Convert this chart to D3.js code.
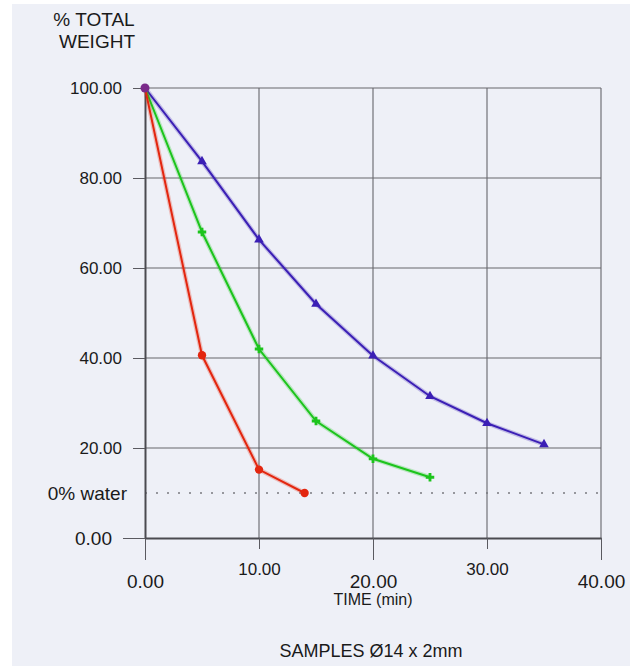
<!DOCTYPE html>
<html>
<head>
<meta charset="utf-8">
<script src="https://cdn.jsdelivr.net/npm/d3@7"></script>
<style>
  body { margin: 0; background: #fff; }
  svg { display: block; font-family: "Liberation Sans", Arial, sans-serif; }
</style>
</head>
<body>
<div class="canvas"></div>
<script>
// data
const times = [0, 5, 10, 15, 20, 25, 30, 35]
const redVals = [100, 40.6, 15.2, 10]
const redTimes = [0, 5, 10, 14]
const greenVals = [100, 68, 42, 26, 17.6, 13.5]
const blueVals = [100, 83.7, 66.3, 52, 40.5, 31.5, 25.5, 20.8]
const xTicks = [0, 10, 20, 30, 40]
const yTicks = [0, 20, 40, 60, 80, 100]
const waterLevel = 10

const dims = { width: 630, height: 666 }
const plot = { left: 145, right: 601, top: 88, bottom: 538 }

const svg = d3.select('.canvas')
  .append('svg')
  .attr('width', dims.width)
  .attr('height', dims.height)

// paper background
svg.append('rect')
  .attr('x', 12).attr('y', 4)
  .attr('width', dims.width - 12).attr('height', dims.height - 4)
  .attr('fill', '#eef0f7')

const x = d3.scaleLinear().domain([0, 40]).range([plot.left, plot.right])
const y = d3.scaleLinear().domain([0, 100]).range([plot.bottom, plot.top])

// grid
const grid = svg.append('g')
grid.selectAll('.hg')
  .data(yTicks.filter(d => d > 0))
  .enter().append('line')
  .attr('x1', plot.left).attr('x2', plot.right)
  .attr('y1', d => y(d)).attr('y2', d => y(d))
  .attr('stroke', '#66666c').attr('stroke-width', 1.1)
grid.selectAll('.vg')
  .data(xTicks.filter(d => d > 0))
  .enter().append('line')
  .attr('x1', d => x(d)).attr('x2', d => x(d))
  .attr('y1', plot.top).attr('y2', plot.bottom)
  .attr('stroke', '#66666c').attr('stroke-width', 1.1)

// 0% water dotted line
svg.append('line')
  .attr('x1', plot.left).attr('x2', plot.right)
  .attr('y1', y(waterLevel)).attr('y2', y(waterLevel))
  .attr('stroke', '#7a7a80').attr('stroke-width', 1.3)
  .attr('stroke-dasharray', '2,9')

// x axis (staggered labels)
const xAxis = svg.append('g')
  .attr('transform', `translate(0, ${plot.bottom})`)
  .call(d3.axisBottom(x).tickValues(xTicks).tickFormat(d3.format('.2f')).tickSizeOuter(0))
xAxis.select('.domain').attr('stroke', '#4a4a50').attr('stroke-width', 2)
xAxis.selectAll('.tick line')
  .attr('stroke', '#5a5a60')
  .attr('y2', (d, i) => i % 2 ? 11 : 22)
xAxis.selectAll('.tick text')
  .attr('fill', '#1a1a1a')
  .attr('dy', null)
  .style('font-size', (d, i) => i % 2 ? '17px' : '19px')
  .attr('y', (d, i) => i % 2 ? 37 : 50)

// y axis
const yAxis = svg.append('g')
  .attr('transform', `translate(${plot.left}, 0)`)
  .call(d3.axisLeft(y).tickValues(yTicks).tickFormat(d3.format('.2f')).tickSize(12).tickSizeOuter(0))
yAxis.select('.domain').attr('stroke', '#4a4a50').attr('stroke-width', 2)
yAxis.selectAll('.tick line')
  .attr('stroke', '#5a5a60')
  .attr('x2', d => d === 0 ? -22 : -12)
yAxis.selectAll('.tick text')
  .attr('fill', '#1a1a1a')
  .style('font-size', d => d === 0 ? '19px' : '17px')
  .attr('x', d => d === 0 ? -33 : -23)

// labels
svg.append('text').attr('x', 127).attr('y', y(waterLevel) + 7)
  .attr('text-anchor', 'end').style('font-size', '19px').attr('fill', '#1a1a1a')
  .text('0% water')

const title = svg.append('text').attr('text-anchor', 'middle')
  .style('font-size', '19px').attr('fill', '#1a1a1a')
title.append('tspan').attr('x', 94).attr('y', 26).text('% TOTAL')
title.append('tspan').attr('x', 97).attr('y', 48).text('WEIGHT')

svg.append('text').attr('x', x(20)).attr('y', 605)
  .attr('text-anchor', 'middle').style('font-size', '16px').attr('fill', '#1a1a1a')
  .text('TIME (min)')

svg.append('text').attr('x', 371).attr('y', 657)
  .attr('text-anchor', 'middle').style('font-size', '18px').attr('fill', '#1a1a1a')
  .text('SAMPLES Ø14 x 2mm')

// series
const line = d3.line().x(d => x(d.t)).y(d => y(d.v))
const series = [
  { name: 'blue', color: '#3b1fb5', symbol: d3.symbolTriangle,
    pts: blueVals.map((v, i) => ({ t: times[i], v })) },
  { name: 'green', color: '#1cc41c', symbol: d3.symbolCross,
    pts: greenVals.map((v, i) => ({ t: times[i], v })) },
  { name: 'red', color: '#e3260f', symbol: d3.symbolCircle,
    pts: redVals.map((v, i) => ({ t: redTimes[i], v })) }
]

series.forEach(s => {
  svg.append('path')
    .datum(s.pts)
    .attr('d', line)
    .attr('fill', 'none')
    .attr('stroke', s.color)
    .attr('stroke-opacity', 0.25)
    .attr('stroke-width', 4.5)
  svg.append('path')
    .datum(s.pts)
    .attr('d', line)
    .attr('fill', 'none')
    .attr('stroke', s.color)
    .attr('stroke-width', 2)
  svg.selectAll('.m-' + s.name)
    .data(s.pts.slice(1))
    .enter().append('path')
    .attr('transform', d => `translate(${x(d.t)}, ${y(d.v)})`)
    .attr('d', d3.symbol().type(s.symbol).size(s.name === 'red' ? 55 : 40))
    .attr('fill', s.color)
})

// shared start point
svg.append('circle')
  .attr('cx', x(times[0])).attr('cy', y(100)).attr('r', 4.5)
  .attr('fill', '#7a2a8a')
</script>
</body>
</html>
